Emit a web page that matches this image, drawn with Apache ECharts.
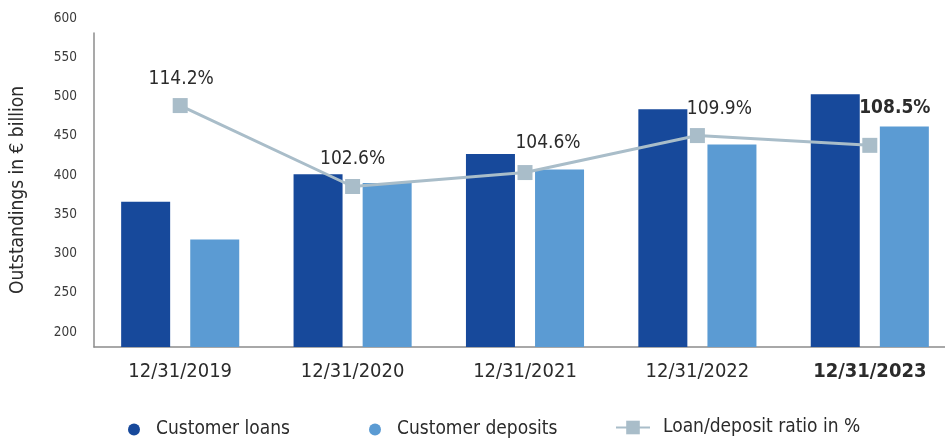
<!DOCTYPE html>
<html>
<head>
<meta charset="utf-8">
<script src="https://cdn.jsdelivr.net/npm/echarts@6/dist/echarts.min.js"></script>
<style>
  html, body { margin: 0; padding: 0; background: #fff; }
  #chart { width: 945px; height: 442px; }
</style>
</head>
<body>
<div id="chart"></div>
<script>
// Year-end dates on the category axis
const categories = ['12/31/2019', '12/31/2020', '12/31/2021', '12/31/2022', '12/31/2023'];
// Outstandings in € billion
const customerLoans = [385, 420, 446, 503, 522];
const customerDeposits = [337, 409, 426, 458, 481];
// Loan/deposit ratio in %
const loanDepositRatio = [114.2, 102.6, 104.6, 109.9, 108.5];
// Left axis ticks
const yTicks = [200, 250, 300, 350, 400, 450, 500, 550, 600];

const FONT = "'Liberation Sans Narrow', 'DejaVu Sans Condensed', 'Roboto', sans-serif";
const DARK = '#2b2b2b';
const LOAN_COLOR = '#17499b';
const DEPOSIT_COLOR = '#5b9bd3';
const RATIO_COLOR = '#a9bdc9';
const lastIdx = categories.length - 1;

// Per-point label placement for the ratio line
const ratioLabelOffsets = [[1, 0], [0, 0], [23, -2], [22, 0], [25, -10]];

const chart = echarts.init(document.getElementById('chart'), null, { renderer: 'canvas' });

chart.setOption({
  animation: false,
  textStyle: { fontFamily: FONT },
  grid: { left: 94, right: -11, top: 33, bottom: 95, containLabel: false, outerBoundsMode: 'none' },
  legend: [
    {
      left: 123, top: 415, itemWidth: 34, itemHeight: 12, itemGap: 0,
      data: [{ name: 'Customer loans', icon: 'circle' }],
      textStyle: { fontFamily: FONT, fontSize: 19, color: DARK }
    },
    {
      left: 364, top: 415, itemWidth: 34, itemHeight: 12, itemGap: 0,
      data: [{ name: 'Customer deposits', icon: 'circle' }],
      textStyle: { fontFamily: FONT, fontSize: 19, color: DARK }
    },
    {
      left: 610, top: 413, itemWidth: 34, itemHeight: 17, itemGap: 0,
      data: ['Loan/deposit ratio in %'],
      textStyle: { fontFamily: FONT, fontSize: 19, color: DARK, padding: [0, 0, 0, 8] }
    }
  ],
  xAxis: {
    type: 'category',
    data: categories,
    axisLine: { lineStyle: { color: '#8c8c8c', width: 1.5 } },
    axisTick: { show: false },
    axisLabel: {
      interval: 0,
      margin: 15,
      fontFamily: FONT,
      fontSize: 20,
      color: DARK,
      formatter: (v, i) => (i === lastIdx ? '{b|' + v + '}' : v),
      rich: { b: { fontFamily: FONT, fontSize: 20, fontWeight: 'bold', color: DARK } }
    }
  },
  yAxis: [
    {
      type: 'value',
      min: yTicks[0],
      max: yTicks[yTicks.length - 1],
      interval: yTicks[1] - yTicks[0],
      name: 'Outstandings in € billion',
      nameLocation: 'middle',
      nameGap: 66,
      nameTextStyle: { fontFamily: FONT, fontSize: 19, color: DARK },
      axisLine: { show: true, lineStyle: { color: '#8c8c8c', width: 1.5 } },
      axisTick: { show: false },
      splitLine: { show: false },
      axisLabel: {
        margin: 17,
        fontFamily: FONT,
        fontSize: 13.5,
        color: '#3a3a3a',
        formatter: v => '{t|' + v + '}',
        rich: { t: { fontFamily: FONT, fontSize: 13.5, color: '#3a3a3a', padding: [0, 0, 30, 0] } }
      }
    },
    {
      type: 'value',
      min: 79.6,
      max: 124.6,
      show: false,
      splitLine: { show: false }
    }
  ],
  series: [
    {
      name: 'Customer loans',
      type: 'bar',
      data: customerLoans,
      barWidth: 49,
      barGap: '41%',
      itemStyle: { color: LOAN_COLOR }
    },
    {
      name: 'Customer deposits',
      type: 'bar',
      data: customerDeposits,
      barWidth: 49,
      barGap: '41%',
      itemStyle: { color: DEPOSIT_COLOR }
    },
    {
      name: 'Loan/deposit ratio in %',
      type: 'line',
      yAxisIndex: 1,
      data: loanDepositRatio.map((v, i) => ({
        value: v,
        label: {
          offset: ratioLabelOffsets[i],
          fontWeight: i === lastIdx ? 'bold' : 'normal'
        }
      })),
      symbol: 'rect',
      symbolSize: 15,
      lineStyle: { color: RATIO_COLOR, width: 3 },
      itemStyle: { color: RATIO_COLOR },
      label: {
        show: true,
        position: 'top',
        distance: 10,
        fontFamily: FONT,
        fontSize: 19,
        color: DARK,
        formatter: p => p.value.toFixed(1) + '%'
      },
      z: 5
    }
  ]
});
</script>
</body>
</html>
